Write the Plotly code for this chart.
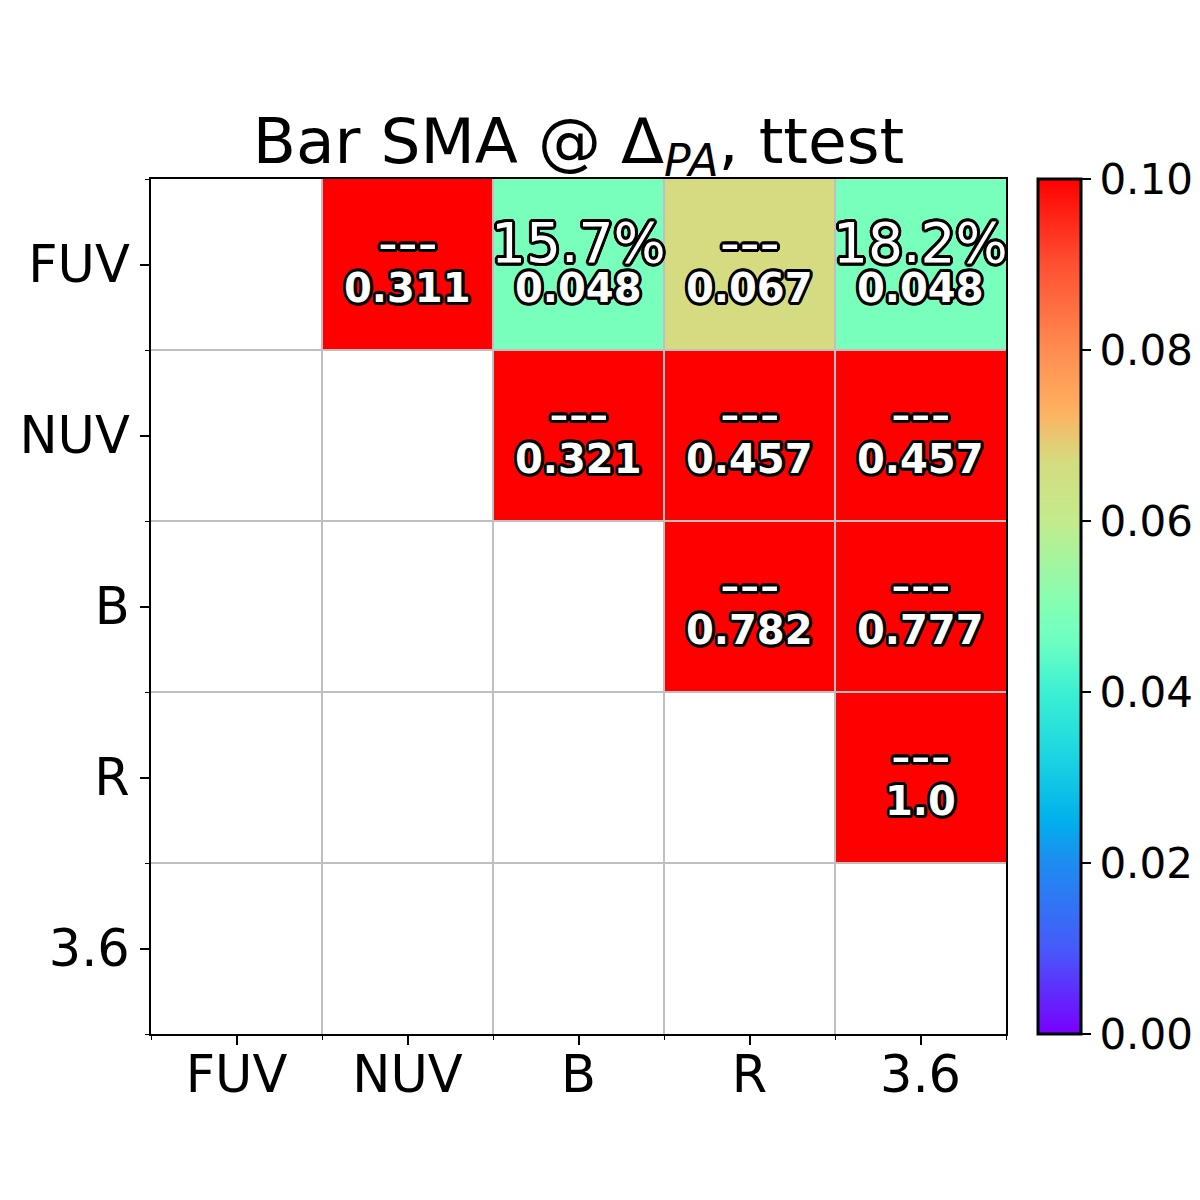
import math
import numpy as np
import plotly.graph_objects as go

bands = ["FUV", "NUV", "B", "R", "3.6"]

# p-values of the ttest, upper triangle only (None = empty cell)
pvals = [
    [None, 0.311, 0.048, 0.067, 0.048],
    [None, None, 0.321, 0.457, 0.457],
    [None, None, None, 0.782, 0.777],
    [None, None, None, None, 1.0],
    [None, None, None, None, None],
]

# difference label shown above each p-value
diffs = [
    [None, "---", "15.7%", "---", "18.2%"],
    [None, None, "---", "---", "---"],
    [None, None, None, "---", "---"],
    [None, None, None, None, "---"],
    [None, None, None, None, None],
]

cbar_ticks = [0.00, 0.02, 0.04, 0.06, 0.08, 0.10]

colorscale = [
    [0.00, "rgb(120,0,255)"],
    [0.10, "rgb(70,90,250)"],
    [0.20, "rgb(30,140,240)"],
    [0.25, "rgb(0,176,236)"],
    [0.33, "rgb(30,215,225)"],
    [0.40, "rgb(60,240,210)"],
    [0.46, "rgb(110,255,195)"],
    [0.50, "rgb(130,255,180)"],
    [0.60, "rgb(195,235,140)"],
    [0.67, "rgb(213,219,128)"],
    [0.73, "rgb(255,176,96)"],
    [0.80, "rgb(255,140,80)"],
    [0.90, "rgb(255,80,50)"],
    [1.00, "rgb(255,0,0)"],
]

n = len(bands)
idx = list(range(n))
z = np.array([[np.nan if v is None else v for v in row] for row in pvals])

# black stroke around white text, built from text shadows
outline = ", ".join(
    f"{3 * math.cos(a * math.pi / 8):.2f}px {3 * math.sin(a * math.pi / 8):.2f}px 0 #000"
    for a in range(16)
)

fig = go.Figure()
fig.add_trace(go.Heatmap(
    z=z, x=idx, y=idx,
    zmin=0, zmax=0.1,
    colorscale=colorscale,
    hoverongaps=False,
    colorbar=dict(
        x=1.0374, xanchor="left", xpad=0,
        y=0.5, yanchor="middle", len=1.0, ypad=0,
        thickness=43,
        outlinecolor="black", outlinewidth=3,
        tickvals=cbar_ticks, tickformat=".2f",
        ticks="outside", ticklen=9, tickwidth=2, tickcolor="black",
        tickfont=dict(size=42, color="black"),
    ),
))

annotations = []
for i in idx:
    for j in idx:
        if pvals[i][j] is None:
            continue
        annotations.append(dict(
            x=j, y=i, xref="x", yref="y", text=diffs[i][j],
            showarrow=False, yshift=22,
            font=dict(size=55, color="white", shadow=outline),
        ))
        annotations.append(dict(
            x=j, y=i, xref="x", yref="y", text=f"<b>{pvals[i][j]}</b>",
            showarrow=False, yshift=-23,
            font=dict(size=40, color="white", shadow=outline),
        ))

# cell borders
shapes = []
for k in range(1, n):
    e = k - 0.5
    shapes.append(dict(type="line", xref="x", yref="y", x0=e, x1=e, y0=-0.5, y1=n - 0.5,
                       line=dict(color="#bfbfbf", width=2), layer="above"))
    shapes.append(dict(type="line", xref="x", yref="y", y0=e, y1=e, x0=-0.5, x1=n - 0.5,
                       line=dict(color="#bfbfbf", width=2), layer="above"))

edges = [k - 0.5 for k in range(n + 1)]
axis_common = dict(
    tickvals=idx, ticktext=bands,
    ticks="outside", ticklen=9, tickwidth=2, tickcolor="black",
    tickfont=dict(size=51, color="black"),
    showline=True, mirror=True, linecolor="black", linewidth=2,
    showgrid=False, zeroline=False, layer="above traces", automargin=False,
    minor=dict(tickvals=edges, ticks="outside", ticklen=4, tickwidth=1,
               tickcolor="black", showgrid=False),
)

fig.update_layout(
    width=1200, height=1200,
    margin=dict(l=143, r=202, t=171, b=174, autoexpand=False),
    paper_bgcolor="white", plot_bgcolor="white",
    font=dict(family="DejaVu Sans", color="black"),
    title=dict(
        text="Bar SMA @ Δ<sub><i>PA</i></sub>, ttest",
        x=0.5, xanchor="center", xref="paper",
        y=1 - 133 / 1200, yanchor="middle", yref="container",
        font=dict(size=63, color="black"),
    ),
    xaxis=dict(range=[-0.5, n - 0.5], ticklabelstandoff=-14, **axis_common),
    yaxis=dict(range=[n - 0.5, -0.5], **axis_common),
    annotations=annotations,
    shapes=shapes,
)

fig.write_html("out.html")
